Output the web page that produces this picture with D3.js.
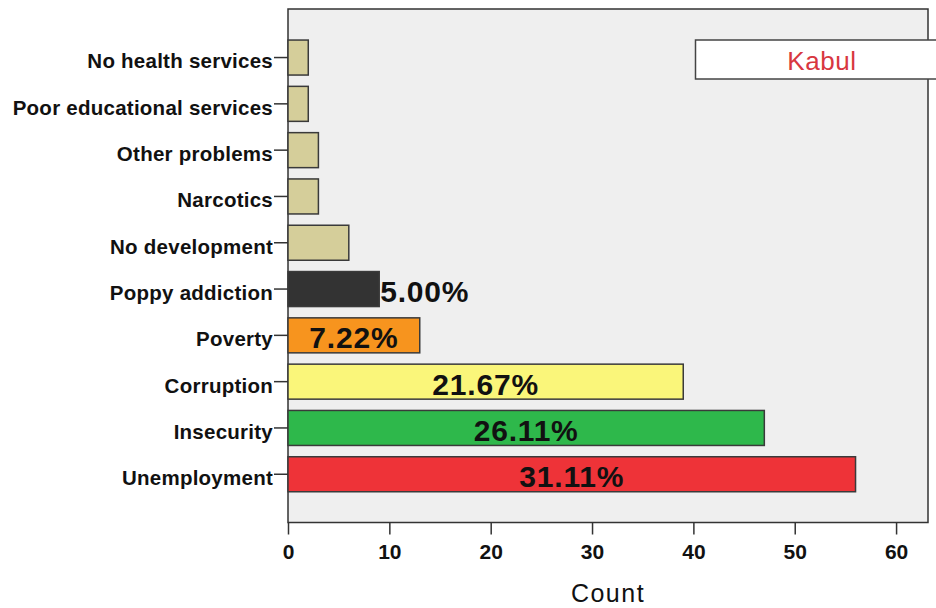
<!DOCTYPE html>
<html>
<head>
<meta charset="utf-8">
<script src="https://cdn.jsdelivr.net/npm/d3@7/dist/d3.min.js"></script>
<style>
  html, body { margin: 0; padding: 0; background: #ffffff; }
  svg { display: block; font-family: "Liberation Sans", Arial, sans-serif; }
</style>
</head>
<body>
<svg id="chart" width="936" height="608"></svg>
<script>
const categories = ["No health services", "Poor educational services", "Other problems", "Narcotics",
  "No development", "Poppy addiction", "Poverty", "Corruption", "Insecurity", "Unemployment"];
const counts = [2, 2, 3, 3, 6, 9, 13, 39, 47, 56];
const pctLabels = [null, null, null, null, null, "5.00%", "7.22%", "21.67%", "26.11%", "31.11%"];
const barColors = ["#d5ce9a", "#d5ce9a", "#d5ce9a", "#d5ce9a", "#d5ce9a", "#333333", "#f7941e", "#faf67a", "#2eb84b", "#ee3338"];
const xTicks = [0, 10, 20, 30, 40, 50, 60];
const legendLabel = "Kabul";
const xTitle = "Count";

const svg = d3.select("#chart");
const plot = { left: 288, top: 9, right: 928, bottom: 522.5 };

const x = d3.scaleLinear().domain([0, 63.15]).range([plot.left, plot.right]);
const y = d3.scaleBand().domain(categories).range([34.4, 497.4]).paddingInner(0.244).paddingOuter(0.122);

// plot background
svg.append("rect")
  .attr("x", plot.left).attr("y", plot.top)
  .attr("width", plot.right - plot.left).attr("height", plot.bottom - plot.top)
  .attr("fill", "#efefef").attr("stroke", "#333").attr("stroke-width", 1.5);

// bars
const data = categories.map((c, i) => ({ c, v: counts[i], col: barColors[i], lab: pctLabels[i] }));
svg.append("g").selectAll("rect").data(data).join("rect")
  .attr("x", x(0))
  .attr("y", d => y(d.c))
  .attr("width", d => x(d.v) - x(0))
  .attr("height", y.bandwidth())
  .attr("fill", d => d.col)
  .attr("stroke", "#3a3a3a").attr("stroke-width", 1.5);

// percent labels
svg.append("g").selectAll("text").data(data.filter(d => d.lab)).join("text")
  .attr("x", d => d.v < 10 ? x(d.v) + 1 : (x(0) + x(d.v)) / 2)
  .attr("y", d => y(d.c) + y.bandwidth() / 2 + 13)
  .attr("text-anchor", d => d.v < 10 ? "start" : "middle")
  .attr("font-size", 30).attr("font-weight", "bold").attr("fill", "#111")
  .attr("letter-spacing", 0.8)
  .text(d => d.lab);

// y axis
const yAxis = svg.append("g").attr("transform", `translate(${plot.left},0)`)
  .call(d3.axisLeft(y).tickSize(14).tickPadding(1));
yAxis.select(".domain").remove();
yAxis.selectAll(".tick line").attr("stroke", "#333").attr("stroke-width", 1.5);
yAxis.selectAll(".tick text")
  .attr("font-size", 20.5).attr("font-weight", "bold").attr("fill", "#111")
  .attr("letter-spacing", 0.25)
  .attr("font-family", "'Liberation Sans', Arial, sans-serif")
  .attr("dy", "0.53em");

// x axis
const xAxis = svg.append("g").attr("transform", `translate(0,${plot.bottom})`)
  .call(d3.axisBottom(x).tickValues(xTicks).tickSize(12).tickPadding(10).tickFormat(d3.format("d")));
xAxis.select(".domain").remove();
xAxis.selectAll(".tick line").attr("stroke", "#333").attr("stroke-width", 1.5);
xAxis.selectAll(".tick text")
  .attr("font-size", 21).attr("font-weight", "bold").attr("fill", "#111")
  .attr("font-family", "'Liberation Sans', Arial, sans-serif");

// x title
svg.append("text")
  .attr("x", 608).attr("y", 602)
  .attr("text-anchor", "middle")
  .attr("font-size", 25).attr("fill", "#111")
  .attr("letter-spacing", 1.5)
  .text(xTitle);

// legend box
svg.append("rect")
  .attr("x", 695.5).attr("y", 40).attr("width", 260).attr("height", 39)
  .attr("fill", "#ffffff").attr("stroke", "#444").attr("stroke-width", 1.5);
svg.append("text")
  .attr("x", 822).attr("y", 70)
  .attr("text-anchor", "middle")
  .attr("font-size", 26).attr("fill", "#d8373f")
  .attr("letter-spacing", 0.6)
  .text(legendLabel);
</script>
</body>
</html>
